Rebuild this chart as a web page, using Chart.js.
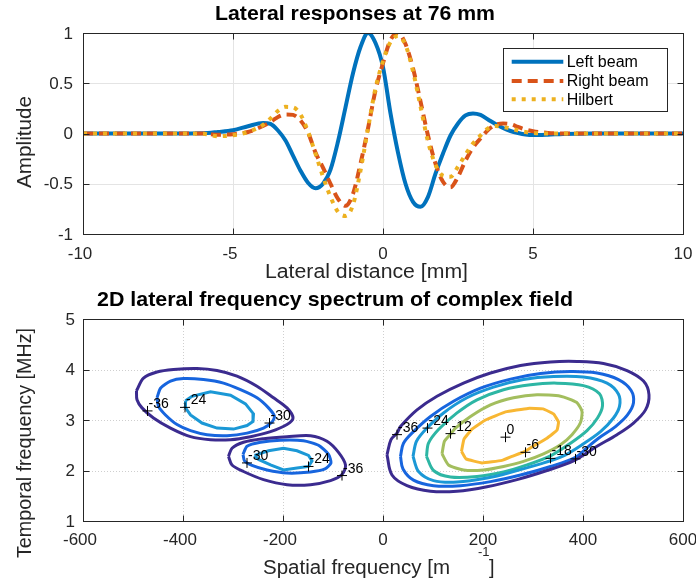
<!DOCTYPE html>
<html><head><meta charset="utf-8">
<script src="https://cdn.jsdelivr.net/npm/chart.js@4.4.1/dist/chart.umd.min.js"></script>
<style>
html,body{margin:0;padding:0;background:#fff;}
#wrap{position:relative;width:696px;height:582px;overflow:hidden;}
canvas{position:absolute;left:0;}
</style></head><body>
<div id="wrap">
<canvas id="topChart" width="696" height="290" style="top:0"></canvas>
<canvas id="botChart" width="696" height="292" style="top:290px"></canvas>
</div>
<script>
// ---------------- data: top panel ----------------
const lateralX = [-10,-9,-8,-7,-6,-5.5,-5,-4.5,-4,-3.75,-3.5,-3.25,-3,-2.75,-2.5,-2.25,-2,-1.75,-1.5,-1.25,-1,-0.75,-0.5,-0.25,0,0.25,0.5,0.75,1,1.25,1.5,1.75,2,2.25,2.5,2.75,3,3.25,3.5,3.75,4,4.25,4.5,4.75,5,5.5,6,7,8,9,10];
const leftBeam = [0,0,0,0,0.002,0.015,0.033,0.072,0.105,0.095,0.03,-0.07,-0.22,-0.37,-0.49,-0.545,-0.5,-0.36,-0.08,0.26,0.6,0.86,1.0,0.9,0.66,0.2,-0.19,-0.5,-0.68,-0.73,-0.63,-0.4,-0.2,-0.02,0.1,0.18,0.2,0.185,0.14,0.095,0.055,0.025,0.005,-0.01,-0.016,-0.012,-0.005,0,0,0,0];
const rightBeam = [0,0,0,0,0,-0.012,-0.007,0.015,0.075,0.115,0.165,0.19,0.185,0.13,0.01,-0.19,-0.34,-0.5,-0.65,-0.72,-0.6,-0.3,0.05,0.43,0.7,0.93,1.0,0.89,0.65,0.32,-0.02,-0.3,-0.48,-0.535,-0.43,-0.27,-0.14,-0.05,0.035,0.085,0.1,0.093,0.065,0.04,0.022,0.006,0,0,0,0,0];
const hilbert = [0,0,0,0,-0.003,-0.027,-0.017,0.015,0.085,0.15,0.225,0.265,0.26,0.19,0.02,-0.2,-0.43,-0.63,-0.78,-0.82,-0.71,-0.37,0.05,0.45,0.72,0.91,0.97,0.88,0.62,0.27,-0.08,-0.31,-0.42,-0.43,-0.33,-0.21,-0.1,-0.02,0.05,0.075,0.065,0.05,0.03,0.015,0.005,0,0,0,0,0,0];
const seriesNames = ['Left beam','Right beam','Hilbert'];
const topXTicks = [-10,-5,0,5,10];
const topYTicks = [-1,-0.5,0,0.5,1];

// ---------------- data: bottom panel (contour rings, [spatial freq, temporal freq]) ----------------
const upperRing36 = [[-493,3.58],[-479,3.83],[-452,3.95],[-419,4.00],[-372,4.02],[-332,3.98],[-292,3.87],[-252,3.67],[-219,3.44],[-192,3.24],[-180,3.04],[-192,2.91],[-225,2.77],[-265,2.67],[-305,2.61],[-345,2.61],[-385,2.67],[-425,2.84],[-459,3.04],[-482,3.24],[-492,3.40]];
const upperRing30 = [[-452,3.44],[-445,3.63],[-425,3.77],[-399,3.82],[-359,3.80],[-319,3.73],[-285,3.60],[-252,3.44],[-229,3.24],[-217,3.07],[-222,2.96],[-239,2.84],[-272,2.74],[-312,2.69],[-352,2.71],[-385,2.79],[-412,2.91],[-435,3.10],[-449,3.27]];
const upperRing24 = [[-395,3.38],[-382,3.47],[-345,3.56],[-305,3.49],[-275,3.32],[-259,3.12],[-260,2.97],[-272,2.89],[-299,2.82],[-332,2.84],[-362,2.94],[-385,3.10],[-395,3.24]];
const lowerRing36 = [[-309,2.28],[-302,2.44],[-279,2.56],[-239,2.63],[-192,2.67],[-145,2.69],[-112,2.58],[-89,2.36],[-75,2.11],[-82,1.92],[-105,1.80],[-145,1.72],[-192,1.72],[-239,1.82],[-279,1.98],[-302,2.11]];
const lowerRing30 = [[-280,2.32],[-272,2.48],[-245,2.56],[-205,2.60],[-159,2.59],[-129,2.50],[-109,2.32],[-104,2.15],[-116,2.03],[-145,1.97],[-192,1.95],[-232,2.01],[-262,2.10],[-277,2.19]];
const lowerRing24 = [[-257,2.30],[-229,2.39],[-199,2.44],[-172,2.39],[-149,2.30],[-142,2.19],[-149,2.08],[-172,2.05],[-199,2.01],[-225,2.11],[-249,2.22]];
const rightRing36 = [[8,2.31],[16,2.61],[28,2.74],[35,2.87],[68,3.20],[108,3.47],[161,3.73],[215,3.93],[275,4.08],[335,4.15],[388,4.16],[441,4.12],[488,3.98],[521,3.77],[532,3.50],[525,3.20],[501,2.94],[468,2.71],[428,2.48],[381,2.19],[328,2.00],[268,1.82],[208,1.68],[148,1.59],[95,1.59],[48,1.70],[18,1.91]];
const rightRing30 = [[35,2.28],[41,2.54],[61,2.77],[95,3.07],[141,3.37],[195,3.63],[255,3.81],[315,3.92],[375,3.96],[428,3.93],[471,3.80],[496,3.59],[501,3.34],[489,3.10],[465,2.87],[431,2.64],[408,2.45],[385,2.26],[335,2.08],[275,1.91],[215,1.78],[155,1.70],[101,1.70],[61,1.81],[40,2.03]];
const rightRing24 = [[60,2.28],[67,2.58],[88,2.84],[121,3.14],[168,3.44],[221,3.65],[281,3.80],[341,3.86],[401,3.85],[448,3.73],[471,3.51],[473,3.27],[461,3.04],[435,2.77],[401,2.53],[361,2.29],[315,2.13],[261,1.98],[208,1.85],[148,1.77],[101,1.80],[71,1.98]];
const rightRing18 = [[87,2.28],[91,2.54],[111,2.81],[148,3.14],[188,3.40],[241,3.60],[295,3.70],[348,3.73],[401,3.68],[433,3.52],[439,3.28],[429,3.04],[408,2.79],[375,2.54],[335,2.29],[288,2.11],[241,1.97],[188,1.88],[135,1.87],[101,2.00]];
const rightRing12 = [[118,2.33],[123,2.58],[135,2.72],[145,2.84],[175,3.07],[215,3.30],[261,3.44],[308,3.50],[355,3.47],[387,3.35],[398,3.17],[395,2.95],[378,2.71],[355,2.51],[321,2.33],[281,2.18],[241,2.08],[201,2.01],[161,2.01],[131,2.11]];
const rightRing6 = [[157,2.38],[162,2.62],[178,2.82],[205,3.00],[245,3.16],[290,3.23],[320,3.22],[341,3.12],[351,2.96],[348,2.80],[328,2.64],[300,2.48],[284,2.38],[258,2.28],[238,2.20],[198,2.15],[166,2.23]];
const labelX = [-471,-396,-227,-272,-149,-82,28,89,135,245,285,335,385];
const labelY = [3.18,3.25,2.94,2.15,2.08,1.90,2.71,2.84,2.73,2.66,2.36,2.24,2.23];
const labelText = ['-36','-24','-30','-30','-24','-36','-36','-24','-12','0','-6','-18','-30'];
const botXTicks = [-600,-400,-200,0,200,400,600];
const botYTicks = [1,2,3,4,5];

// ---------------- style ----------------
const FONT = '"Liberation Sans", Arial, Helvetica, sans-serif';
const AXC = '#262626';
const levelColor = {'-36':'#3b2b8f','-30':'#1765de','-24':'#1b98d6','-18':'#2db6a4','-12':'#a3be5e','-6':'#f8b733'};

function fitText(ctx, text, x, y, font, width, color, rot){
  ctx.save(); ctx.font = font; ctx.fillStyle = color; ctx.textBaseline = 'alphabetic'; ctx.textAlign = 'left';
  const w = ctx.measureText(text).width; const s = width ? width / w : 1;
  ctx.translate(x, y); if (rot) ctx.rotate(-Math.PI/2); ctx.scale(s, 1); ctx.fillText(text, 0, 0); ctx.restore();
}
function drawGrid(chart, xt, yt, color, dash){
  const {ctx, chartArea:a, scales:{x, y}} = chart;
  ctx.save(); ctx.strokeStyle = color; ctx.lineWidth = 1; ctx.setLineDash(dash);
  ctx.beginPath();
  xt.forEach(v => { const p = Math.round(x.getPixelForValue(v)) + 0.5; ctx.moveTo(p, a.top); ctx.lineTo(p, a.bottom); });
  yt.forEach(v => { const p = Math.round(y.getPixelForValue(v)) + 0.5; ctx.moveTo(a.left, p); ctx.lineTo(a.right, p); });
  ctx.stroke(); ctx.restore();
}
function drawBox(chart, xt, yt, yLabelRight, xLabelY){
  const {ctx, chartArea:a, scales:{x, y}} = chart;
  const L = Math.round(a.left)+0.5, R = Math.round(a.right)+0.5, T = Math.round(a.top)+0.5, B = Math.round(a.bottom)+0.5;
  ctx.save(); ctx.strokeStyle = AXC; ctx.lineWidth = 1; ctx.setLineDash([]);
  ctx.strokeRect(L, T, R-L, B-T);
  ctx.beginPath();
  const tl = 6;
  xt.forEach(v => { const p = Math.round(x.getPixelForValue(v)) + 0.5; ctx.moveTo(p, B); ctx.lineTo(p, B-tl); ctx.moveTo(p, T); ctx.lineTo(p, T+tl); });
  yt.forEach(v => { const p = Math.round(y.getPixelForValue(v)) + 0.5; ctx.moveTo(L, p); ctx.lineTo(L+tl, p); ctx.moveTo(R, p); ctx.lineTo(R-tl, p); });
  ctx.stroke();
  ctx.font = '17px ' + FONT; ctx.fillStyle = AXC; ctx.textBaseline = 'middle';
  ctx.textAlign = 'right';
  yt.forEach(v => { ctx.fillText(String(v), yLabelRight, y.getPixelForValue(v) + 1); });
  ctx.textAlign = 'center';
  xt.forEach(v => { ctx.fillText(String(v), x.getPixelForValue(v) - (v < 0 ? 3 : 0), xLabelY); });
  ctx.restore();
}

const topDeco = {
  id: 'topDeco',
  beforeDatasetsDraw(chart){ drawGrid(chart, topXTicks, topYTicks, '#e4e4e4', []); },
  afterDatasetsDraw(chart){
    const ctx = chart.ctx;
    drawBox(chart, topXTicks, topYTicks, 73, 254);
    // legend
    ctx.save();
    ctx.fillStyle = '#fff'; ctx.fillRect(503.5, 48.5, 164, 63);
    ctx.strokeStyle = AXC; ctx.lineWidth = 1; ctx.strokeRect(503.5, 48.5, 164, 63);
    const rows = [61.7, 81, 99.3];
    chart.data.datasets.forEach((ds, i) => {
      ctx.strokeStyle = ds.borderColor; ctx.lineWidth = ds.borderWidth; ctx.setLineDash(ds.borderDash || []);
      ctx.beginPath(); ctx.moveTo(511.7, rows[i]); ctx.lineTo(563.3, rows[i]); ctx.stroke();
      ctx.setLineDash([]);
      ctx.font = '16px ' + FONT; ctx.fillStyle = '#000'; ctx.textAlign = 'left'; ctx.textBaseline = 'middle';
      ctx.fillText(ds.label, 566.7, rows[i] + 1);
    });
    ctx.restore();
  },
  afterDraw(chart){
    const ctx = chart.ctx;
    fitText(ctx, 'Lateral responses at 76 mm', 215, 20, 'bold 21px ' + FONT, 280, '#000');
    fitText(ctx, 'Lateral distance [mm]', 265, 278, '20px ' + FONT, 203, AXC);
    fitText(ctx, 'Amplitude', 31, 188, '20px ' + FONT, 92, AXC, true);
  }
};

const botDeco = {
  id: 'botDeco',
  beforeDatasetsDraw(chart){ drawGrid(chart, botXTicks, botYTicks, '#cfcfcf', [1, 2]); },
  afterDatasetsDraw(chart){
    const {ctx, scales:{x, y}} = chart;
    drawBox(chart, botXTicks, botYTicks, 75, 250);
    ctx.save(); ctx.font = '14px ' + FONT; ctx.fillStyle = '#000'; ctx.textAlign = 'left'; ctx.textBaseline = 'alphabetic';
    labelText.forEach((t, i) => { ctx.fillText(t, x.getPixelForValue(labelX[i]) + 1, y.getPixelForValue(labelY[i]) - 3); });
    ctx.restore();
  },
  afterDraw(chart){
    const ctx = chart.ctx;
    fitText(ctx, '2D lateral frequency spectrum of complex field', 97, 16, 'bold 21px ' + FONT, 476, '#000');
    fitText(ctx, 'Spatial frequency [m', 263, 284, '20px ' + FONT, 187, AXC);
    fitText(ctx, '-1', 478, 266, '13px ' + FONT, 0, AXC);
    fitText(ctx, ']', 489, 284, '20px ' + FONT, 0, AXC);
    fitText(ctx, 'Temporal frequency [MHz]', 31, 268, '20px ' + FONT, 230, AXC, true);
  }
};

// ---------------- charts ----------------
const mk = (ys) => lateralX.map((x, i) => ({x, y: ys[i]}));
new Chart(document.getElementById('topChart'), {
  type: 'line',
  data: { datasets: [
    {label: seriesNames[0], data: mk(leftBeam), borderColor: '#0072BD', borderWidth: 4, pointRadius: 0, cubicInterpolationMode: 'monotone', order: 3},
    {label: seriesNames[1], data: mk(rightBeam), borderColor: '#D95319', borderWidth: 4, borderDash: [10, 6], pointRadius: 0, cubicInterpolationMode: 'monotone', order: 2},
    {label: seriesNames[2], data: mk(hilbert), borderColor: '#EDB120', borderWidth: 4, borderDash: [4, 6], pointRadius: 0, cubicInterpolationMode: 'monotone', order: 1}
  ]},
  options: {
    responsive: false, animation: false, devicePixelRatio: 1,
    layout: {padding: {left: 0, right: 13, top: 33, bottom: 0}},
    plugins: {legend: {display: false}, tooltip: {enabled: false}, title: {display: false}},
    scales: {
      x: {type: 'linear', min: -10, max: 10, afterFit(s){ s.height = 56; }, ticks: {display: false}, grid: {display: false}, border: {display: false}},
      y: {type: 'linear', min: -1, max: 1, afterFit(s){ s.width = 83; }, ticks: {display: false}, grid: {display: false}, border: {display: false}}
    }
  },
  plugins: [topDeco]
});

const rings = [
  [upperRing36, '-36', 0.3], [upperRing30, '-30', 0.2], [upperRing24, '-24', 0],
  [lowerRing36, '-36', 0.3], [lowerRing30, '-30', 0.2], [lowerRing24, '-24', 0],
  [rightRing36, '-36', 0.35], [rightRing30, '-30', 0.35], [rightRing24, '-24', 0.3],
  [rightRing18, '-18', 0.3], [rightRing12, '-12', 0.2], [rightRing6, '-6', 0.1]
];
const botDatasets = rings.map(([pts, lev, t]) => ({
  data: pts.concat([pts[0]]).map(([x, y]) => ({x, y})),
  showLine: true, borderColor: levelColor[lev], borderWidth: 3, pointRadius: 0, tension: t, order: 5
}));
botDatasets.push({
  data: labelX.map((x, i) => ({x, y: labelY[i]})), showLine: false,
  pointStyle: 'cross', pointRadius: 5, borderColor: '#000', borderWidth: 1, backgroundColor: '#000', order: 0
});
new Chart(document.getElementById('botChart'), {
  type: 'scatter',
  data: {datasets: botDatasets},
  options: {
    responsive: false, animation: false, devicePixelRatio: 1,
    layout: {padding: {left: 0, right: 13, top: 29, bottom: 0}},
    plugins: {legend: {display: false}, tooltip: {enabled: false}},
    scales: {
      x: {type: 'linear', min: -600, max: 600, afterFit(s){ s.height = 61; }, ticks: {display: false}, grid: {display: false}, border: {display: false}},
      y: {type: 'linear', min: 1, max: 5, afterFit(s){ s.width = 83; }, ticks: {display: false}, grid: {display: false}, border: {display: false}}
    }
  },
  plugins: [botDeco]
});
</script></body></html>
